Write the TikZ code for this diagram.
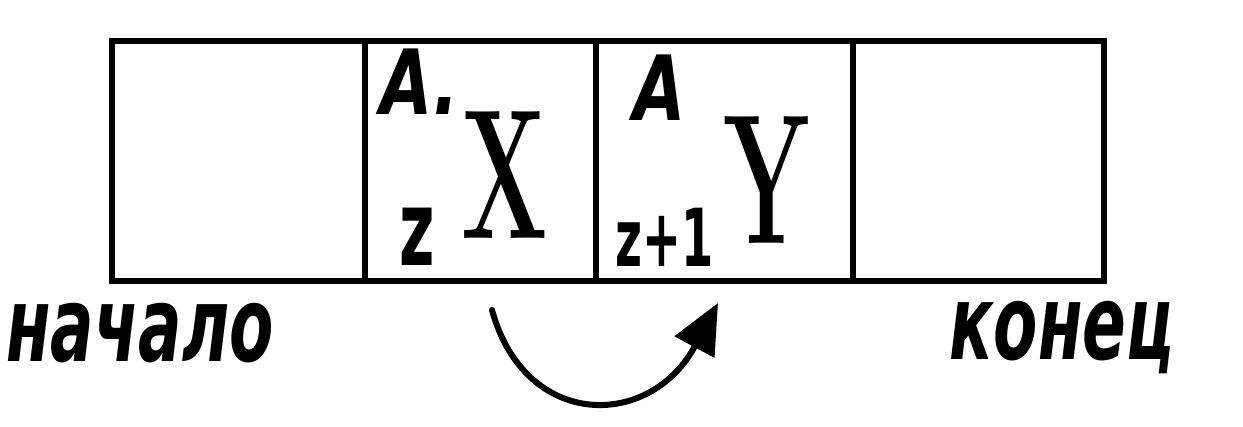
\documentclass[tikz,border=0pt]{standalone}
\usepackage{fontspec}
\usetikzlibrary{arrows.meta}
\newfontfamily\handsans{DejaVu Sans}
\begin{document}
\begin{tikzpicture}[x=1pt,y=-1pt,
  cell/.style={draw=black,line width=5.5pt,minimum height=240pt,inner sep=0pt},
  big/.style={inner sep=0pt,font=\bfseries\fontsize{185}{185}\selectfont,xscale=0.55},
  idx/.style={inner sep=0pt,font=\handsans\bfseries\itshape\fontsize{90}{90}\selectfont,xscale=0.75},
  sub/.style={inner sep=0pt,font=\handsans\bfseries\fontsize{80}{80}\selectfont,xscale=0.58},
  lbl/.style={inner sep=0pt,anchor=base,font=\handsans\bfseries\itshape\fontsize{104}{104}\selectfont,xscale=0.62}]
\useasboundingbox (0,0) rectangle (1243,427);
\fill[white] (0,0) rectangle (1243,427);
% cells
\node[cell,minimum width=253pt] (c1) at (238.5,161) {};
\node[cell,minimum width=231pt] (c2) at (480.5,161) {};
\node[cell,minimum width=257pt] (c3) at (724.5,161) {};
\node[cell,minimum width=251pt] (c4) at (978.5,161) {};
% contents
\node[idx] (a1) at (420,82) {A.};
\node[sub,font=\handsans\bfseries\fontsize{105}{105}\selectfont] (z1) at (417,237) {z};
\node[big] (x) at (505,175) {X};
\node[idx] (a2) at (660,88) {A};
\node[sub] (z2) at (665,237) {z+1};
\node[big] (y) at (767,180) {Y};
% labels
\node[lbl] (start) at (140,362) {начало};
\node[lbl] (end) at (1062,360) {конец};
% arrow
\coordinate (p) at (492,310);
\coordinate (q) at (718,303);
\draw[line width=6pt,line cap=round,-{Triangle[length=50pt,width=44pt]}]
  (p) .. controls (525,430) and (650,430) .. (q);
\end{tikzpicture}
\end{document}
